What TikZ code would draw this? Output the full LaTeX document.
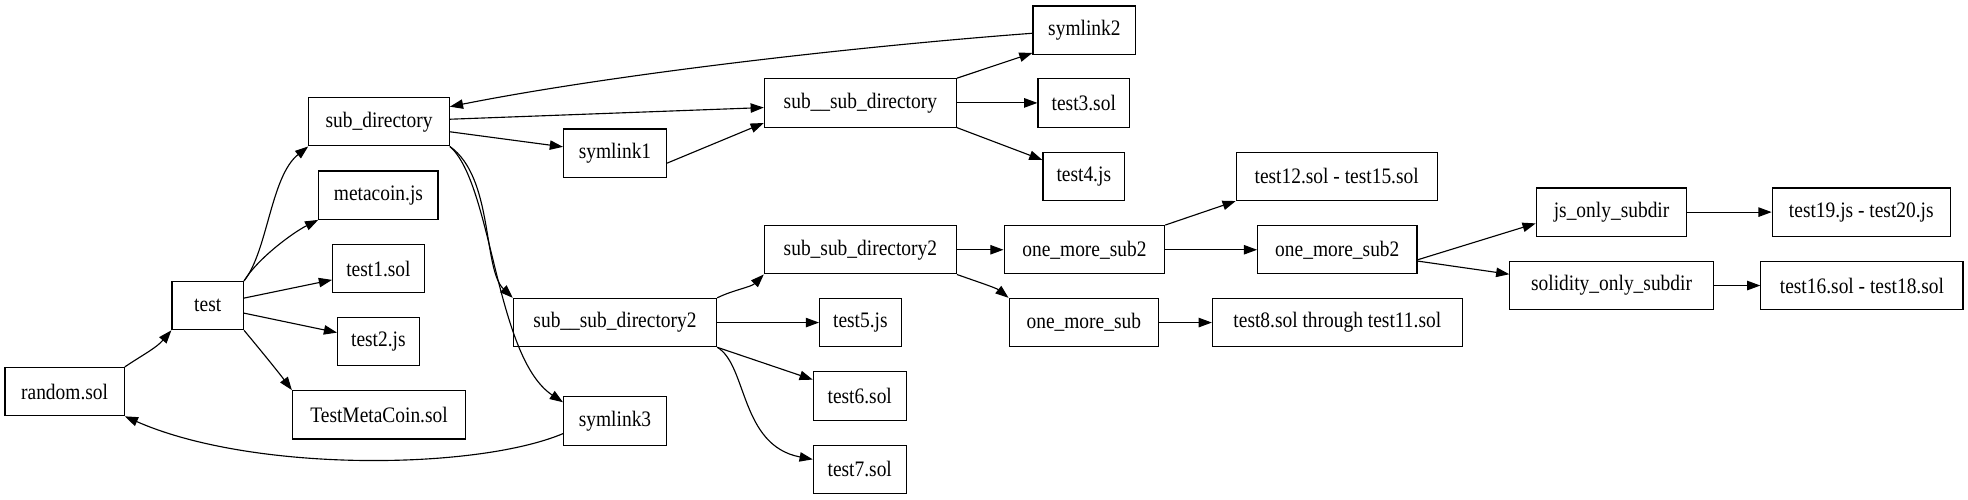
\documentclass[tikz,border=0pt]{standalone}
\usepackage{fontspec}
\setmainfont{Liberation Serif}[FakeStretch=0.88]
\usetikzlibrary{arrows.meta,calc}
\tikzset{
  box/.style={draw, line width=0.9pt, rectangle, inner sep=0pt, minimum height=38.5pt, font=\fontsize{17.6}{20}\selectfont},
  edge/.style={line width=0.9pt, -{Triangle[length=10.5pt,width=7.5pt]}},
}
\begin{document}
\begin{tikzpicture}[x=1pt,y=-1pt]
\useasboundingbox (0,0) rectangle (1568,398);
% nodes
\node[box, minimum width=95pt]  (random)  at (51.5,312)   {random.sol};
\node[box, minimum width=57pt]  (test)    at (165.5,243.5) {test};
\node[box, minimum width=112pt] (subdir)  at (302,97)     {sub\_directory};
\node[box, minimum width=95pt]  (meta)    at (301.5,155.5) {metacoin.js};
\node[box, minimum width=73pt]  (t1)      at (301.5,214)  {test1.sol};
\node[box, minimum width=65pt]  (t2)      at (301.5,272)  {test2.js};
\node[box, minimum width=138pt] (tmc)     at (302,330.5)  {TestMetaCoin.sol};
\node[box, minimum width=82pt]  (sym1)    at (490,122)    {symlink1};
\node[box, minimum width=82pt]  (sym3)    at (490,335.5)  {symlink3};
\node[box, minimum width=162pt] (ssd2)    at (490,257)    {sub\_\_sub\_directory2};
\node[box, minimum width=153pt] (ssd)     at (685.5,82)   {sub\_\_sub\_directory};
\node[box, minimum width=82pt]  (sym2)    at (864,24)     {symlink2};
\node[box, minimum width=73pt]  (t3)      at (863.5,82)   {test3.sol};
\node[box, minimum width=65pt]  (t4)      at (863.5,140.5) {test4.js};
\node[box, minimum width=153pt] (sss2)    at (685.5,199)  {sub\_sub\_directory2};
\node[box, minimum width=65pt]  (t5)      at (685.5,257)  {test5.js};
\node[box, minimum width=74pt]  (t6)      at (685,315.5)  {test6.sol};
\node[box, minimum width=74pt]  (t7)      at (685,374)    {test7.sol};
\node[box, minimum width=128pt] (oms2)    at (864,199)    {one\_more\_sub2};
\node[box, minimum width=119pt] (oms)     at (863.5,257)  {one\_more\_sub};
\node[box, minimum width=160pt] (t12)     at (1065,140.5) {test12.sol - test15.sol};
\node[box, minimum width=127pt] (oms2b)   at (1065.5,199) {one\_more\_sub2};
\node[box, minimum width=199pt] (t8)      at (1065.5,257) {test8.sol through test11.sol};
\node[box, minimum width=120pt] (js)      at (1284,169)   {js\_only\_subdir};
\node[box, minimum width=162pt] (sol)     at (1284,227.5) {solidity\_only\_subdir};
\node[box, minimum width=142pt] (t19)     at (1483,169)   {test19.js - test20.js};
\node[box, minimum width=161pt] (t16)     at (1483.5,227.5) {test16.sol - test18.sol};
% edges
\draw[edge] (random.north east) .. controls +(15,-10) and +(-12,14) .. (test.south west);
\draw[edge] (test.north east) .. controls +(19,-24) and +(-30,24) .. (subdir.south west);
\draw[edge] (test.north east) .. controls +(11,-18) and +(-20,10) .. (meta.south west);
\draw[edge] ([yshift=6pt]test.east) -- ([yshift=-9pt]t1.west);
\draw[edge] ([yshift=-6pt]test.east) -- ([yshift=7pt]t2.west);
\draw[edge] (test.south east) .. controls +(10,12) and +(-12,-16) .. (tmc.north west);
\draw[edge] ([yshift=2pt]subdir.east) -- ([yshift=-3.7pt]ssd.west);
\draw[edge] ([yshift=-8pt]subdir.east) -- ([yshift=5pt]sym1.west);
\draw[edge] (subdir.south east) .. controls +(35,25) and +(-24,-23) .. (ssd2.north west);
\draw[edge] (subdir.south east) .. controls +(34,30) and +(-54,-36) .. ([yshift=15pt]sym3.west);
\draw[edge] ([yshift=-8pt]sym1.east) -- ([yshift=-16pt]ssd.west);
\draw[edge] ([yshift=-2.5pt]sym2.west) .. controls +(-152.6,11.5) and +(122.4,-24.4) .. ([yshift=12pt]subdir.east);
\draw[edge] ([yshift=-10pt]sym3.west) .. controls +(-69,29) and +(102,45) .. (random.south east);
\draw[edge] (ssd.north east) -- ([yshift=1.5pt]sym2.south west);
\draw[edge] (ssd.east) -- (t3.west);
\draw[edge] (ssd.south east) -- ([yshift=13pt]t4.west);
\draw[edge] (ssd2.north east) .. controls +(12,-6) and +(-10,10) .. (sss2.south west);
\draw[edge] (ssd2.east) -- (t5.west);
\draw[edge] (ssd2.south east) -- ([yshift=13pt]t6.west);
\draw[edge] (ssd2.south east) .. controls +(24,14) and +(-58,-11) .. ([yshift=8pt]t7.west);
\draw[edge] (sss2.east) -- (oms2.west);
\draw[edge] (sss2.south east) .. controls +(14,5) and +(-10,-8) .. (oms.north west);
\draw[edge] (oms2.north east) -- (t12.south west);
\draw[edge] (oms2.east) -- (oms2b.west);
\draw[edge] (oms.east) -- (t8.west);
\draw[edge] ([yshift=-8pt]oms2b.east) -- ([yshift=-9pt]js.west);
\draw[edge] ([yshift=-9pt]oms2b.east) -- ([yshift=9pt]sol.west);
\draw[edge] (js.east) -- (t19.west);
\draw[edge] (sol.east) -- (t16.west);
\end{tikzpicture}
\end{document}
